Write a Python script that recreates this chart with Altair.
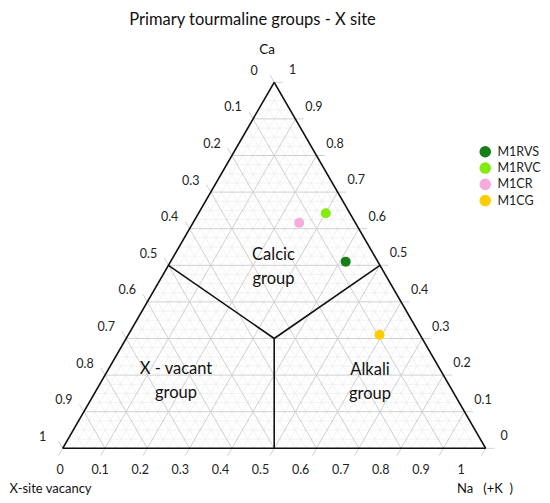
import altair as alt
import pandas as pd

# ---------------- data ----------------
samples = ["M1RVS", "M1RVC", "M1CR", "M1CG"]
sample_colors = ["#177d17", "#84ec0c", "#f9aadc", "#ffcc00"]
ca_values = [0.51, 0.642, 0.616, 0.31]
na_values = [0.414, 0.301, 0.251, 0.594]
vac_values = [0.076, 0.057, 0.133, 0.096]

tick_values = [0, 0.1, 0.2, 0.3, 0.4, 0.5, 0.6, 0.7, 0.8, 0.9, 1]
tick_labels = ["0", "0.1", "0.2", "0.3", "0.4", "0.5", "0.6", "0.7", "0.8", "0.9", "1"]

# field boundaries as (Ca, Na) compositions
junction = (0.30, 0.35)
boundary_ends = [(0.5, 0.0), (0.5, 0.5), (0.0, 0.5)]

group_lines = [("Calcic", "group"), ("X - vacant", "group"), ("Alkali", "group")]

FONT = "Lato"
NB = "\u00a0"

# ---------------- geometry ----------------
W, H = 534, 487
X0, Y0 = 54.7, 440.3   # bottom-left vertex in chart pixels
SX, SY = 423.0, 366.0  # pixels per ternary unit
xdom = [-X0 / SX, (W - X0) / SX]
ydom = [-(H - Y0) / SY, Y0 / SY]


def tern(ca, na):
    return na + ca / 2.0, ca


def px(dx, dy):
    return dx / SX, -dy / SY


xs = alt.Scale(domain=xdom, nice=False, zero=False)
ys = alt.Scale(domain=ydom, nice=False, zero=False)

# ---------------- grid segments ----------------
segs_minor, segs_major = [], []
step = 0.025
for k in range(1, 40):
    v = k * step
    if k % 4 == 0:
        continue
    segs_minor.append((v / 2, v, 1 - v / 2, v))
    segs_minor.append((v, 0, (1 + v) / 2, 1 - v))
    segs_minor.append(((1 - v) / 2, 1 - v, 1 - v, 0))

ext = 0.02
for v in tick_values:
    segs_major.append((v / 2, v, 1 - v / 2 + ext, v))
    segs_major.append((v - ext / 2, -ext, (1 + v) / 2, 1 - v))
    segs_major.append(((1 - v) / 2 - ext / 2, 1 - v + ext, 1 - v, 0))

df_minor = pd.DataFrame(segs_minor, columns=["x", "y", "x2", "y2"])
df_major = pd.DataFrame(segs_major, columns=["x", "y", "x2", "y2"])

edges = [(0, 0, 1, 0), (0, 0, 0.5, 1), (1, 0, 0.5, 1)]
jx, jy = tern(*junction)
bnd = []
for ca, na in boundary_ends:
    ex, ey = tern(ca, na)
    bnd.append((jx, jy, ex, ey))
df_edges = pd.DataFrame(edges + bnd, columns=["x", "y", "x2", "y2"])


def rules(df, color, width):
    return alt.Chart(df).mark_rule(color=color, strokeWidth=width).encode(
        x=alt.X("x:Q", scale=xs, axis=None),
        y=alt.Y("y:Q", scale=ys, axis=None),
        x2="x2:Q",
        y2="y2:Q",
    )


minor = rules(df_minor, "#ececec", 0.7)
major = rules(df_major, "#d0d0d0", 1.0)
outline = rules(df_edges, "#111111", 1.6)

# ---------------- tick labels ----------------
rows = []
for v, lab in zip(tick_values, tick_labels):
    ex, ey = tern(1 - v, 0)
    dx, dy = px(-20, -11.5)
    rows.append((ex + dx, ey + dy, lab))
    ex, ey = tern(v, 1 - v)
    dx, dy = px(18.5, -12)
    rows.append((ex + dx, ey + dy, lab))
    bx = (-2.7 + 401 * v) / SX
    rows.append((bx, -21.7 / SY, lab))
df_ticks = pd.DataFrame(rows, columns=["x", "y", "t"])

ticks = alt.Chart(df_ticks).mark_text(
    font=FONT, fontSize=12.5, color="#222222", align="center", baseline="middle"
).encode(x=alt.X("x:Q", scale=xs), y=alt.Y("y:Q", scale=ys), text="t:N")


def pos(pxx, pyy):
    return (pxx - 62.7) / SX, (448.3 - pyy) / SY


g_rows = []
for (l1, l2), (cx, cy1, cy2) in zip(group_lines, [(273.5, 255, 279), (176, 369, 393), (370, 370, 394)]):
    x1, y1 = pos(cx, cy1)
    x2, y2 = pos(cx, cy2)
    g_rows.append((x1, y1, l1))
    g_rows.append((x2, y2, l2))
df_groups = pd.DataFrame(g_rows, columns=["x", "y", "t"])
groups = alt.Chart(df_groups).mark_text(
    font=FONT, fontSize=16.5, color="#111111", align="center", baseline="middle"
).encode(x=alt.X("x:Q", scale=xs), y=alt.Y("y:Q", scale=ys), text="t:N")

tx, ty = pos(252.5, 19.5)
cax, cay = pos(267, 50)
df_title = pd.DataFrame([(tx, ty, "Primary tourmaline groups - X site")], columns=["x", "y", "t"])
title = alt.Chart(df_title).mark_text(
    font=FONT, fontSize=16.5, color="#111111", align="center", baseline="middle"
).encode(x=alt.X("x:Q", scale=xs), y=alt.Y("y:Q", scale=ys), text="t:N")

df_ca = pd.DataFrame([(cax, cay, "Ca")], columns=["x", "y", "t"])
ca_lab = alt.Chart(df_ca).mark_text(
    font=FONT, fontSize=13.5, color="#111111", align="center", baseline="middle"
).encode(x=alt.X("x:Q", scale=xs), y=alt.Y("y:Q", scale=ys), text="t:N")

vx, vy = pos(9.5, 489)
nx, ny = pos(457, 489)
na_text = "Na" + NB * 3 + "(+K" + NB * 2 + ")"
df_ax = pd.DataFrame([(vx, vy, "X-site vacancy"), (nx, ny, na_text)], columns=["x", "y", "t"])
ax_lab = alt.Chart(df_ax).mark_text(
    font=FONT, fontSize=13, color="#111111", align="left", baseline="middle"
).encode(x=alt.X("x:Q", scale=xs), y=alt.Y("y:Q", scale=ys), text="t:N")

# ---------------- samples ----------------
pts = []
for s, ca, na, vac in zip(samples, ca_values, na_values, vac_values):
    tot = ca + na + vac
    x, y = tern(ca / tot, na / tot)
    pts.append((x, y, s))
df_pts = pd.DataFrame(pts, columns=["x", "y", "sample"])

points = alt.Chart(df_pts).mark_circle(size=100, opacity=1).encode(
    x=alt.X("x:Q", scale=xs),
    y=alt.Y("y:Q", scale=ys),
    color=alt.Color(
        "sample:N",
        scale=alt.Scale(domain=samples, range=sample_colors),
        legend=alt.Legend(
            title=None,
            orient="none",
            legendX=471,
            legendY=137.5,
            symbolType="circle",
            symbolSize=135,
            symbolStrokeWidth=0,
            symbolOpacity=1,
            labelFont=FONT,
            labelFontSize=12.5,
            labelColor="#222222",
            labelOffset=6,
            rowPadding=3.3,
            padding=0,
        ),
    ),
)

chart = alt.layer(minor, major, outline, ticks, groups, title, ca_lab, ax_lab, points).properties(
    width=W, height=H, padding=0, autosize=alt.AutoSizeParams(type="none")
).configure_view(strokeWidth=0)

chart.save("out.html", embed_options={"renderer": "svg", "actions": False})
